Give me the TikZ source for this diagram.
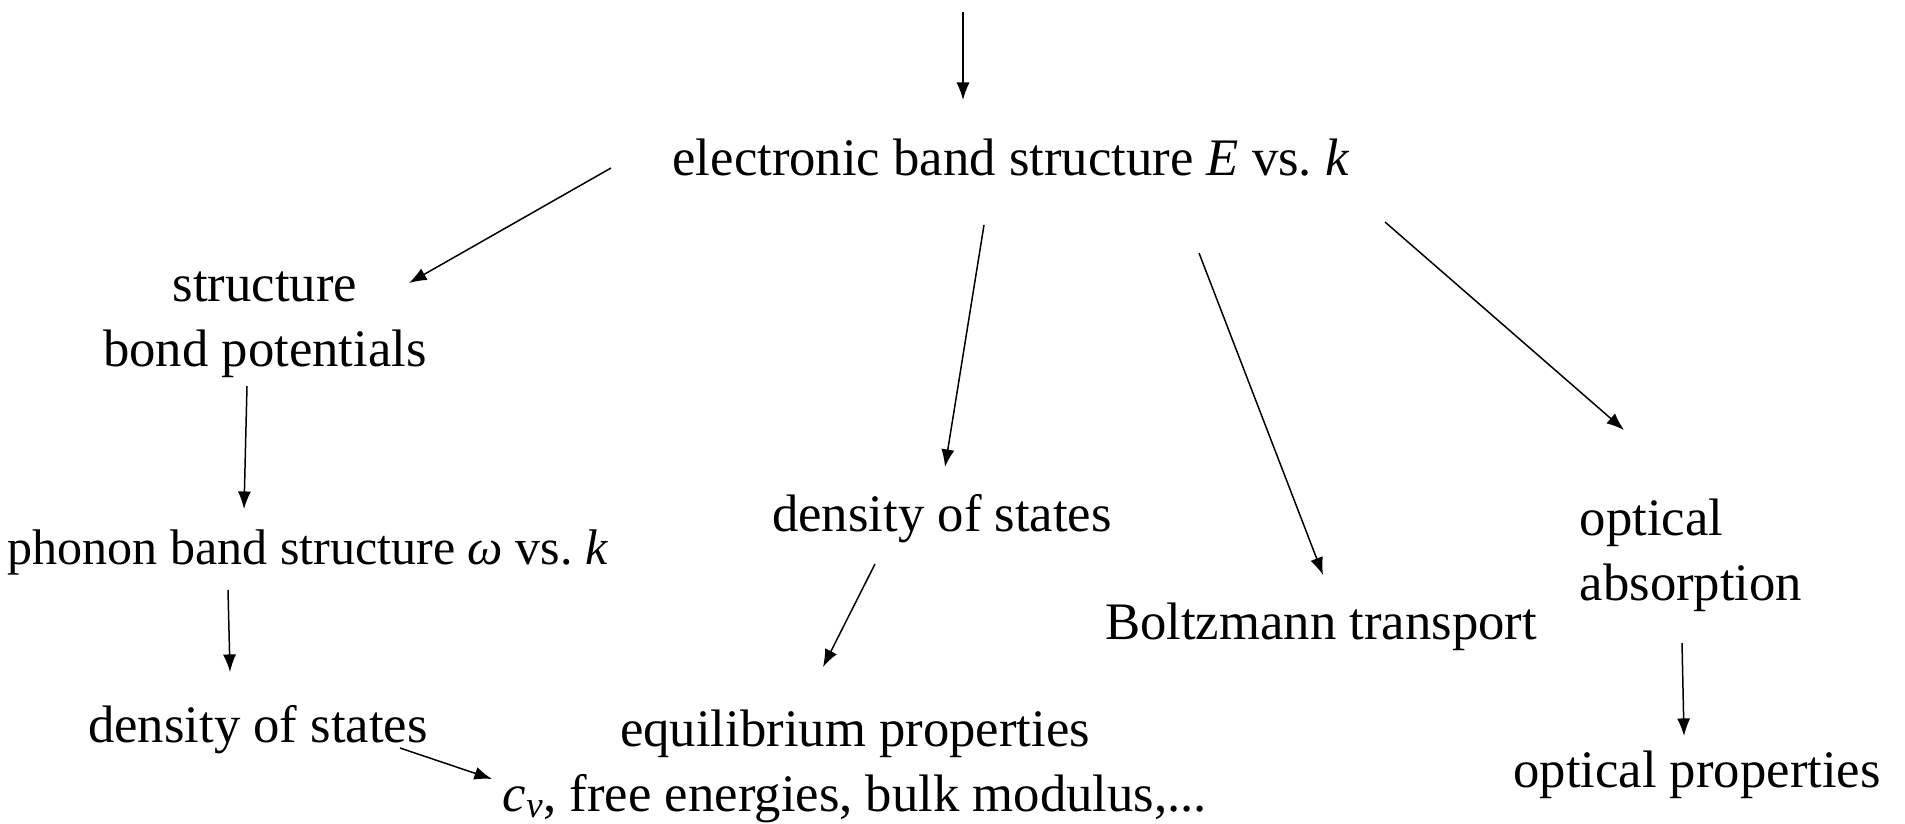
\documentclass[tikz,border=0pt]{standalone}
\usepackage{fontspec}
\setmainfont{Liberation Serif}
\usetikzlibrary{arrows.meta}
\frenchspacing
\begin{document}
\begin{tikzpicture}
        [x=0.02cm, y=-0.02cm,
        txt/.style={inner sep=0pt, anchor=base, font=\fontsize{30}{36.5}\selectfont},
        arr/.style={line width=0.85pt, -{Latex[length=10pt, width=7.5pt]}}]
        \useasboundingbox (0,0) rectangle (1905,824);

        \node[txt] (elec) at (1011,175) {electronic band structure \textit{E} vs. \textit{k}};
        \node[txt, align=center] (struct) at (265,366) {structure\\bond potentials};
        \node[txt, font=\fontsize{28.5}{35}\selectfont] (phonon) at (308,564) {phonon band structure \textit{ω} vs. \textit{k}};
        \node[txt] (dosP) at (258,742) {density of states};
        \node[txt] (dosE) at (942,531) {density of states};
        \node[txt, align=center] (equil) at (855,811) {equilibrium properties\\\textit{c}\textsubscript{\textit{v}}, free energies, bulk modulus,...};
        \node[txt] (boltz) at (1321,639) {Boltzmann transport};
        \node[txt, align=left] (opt) at (1691,600) {optical\\absorption};
        \node[txt] (optprop) at (1697,787) {optical properties};
        \coordinate (src) at (963,12);

        \draw[arr] (src) -- ([shift={(-48,-75)}]elec.base);
        \draw[arr] ([shift={(-400,-7)}]elec.base) -- ([shift={(144,-83)}]struct.base);
        \draw[arr] ([shift={(-27,50)}]elec.base) -- ([shift={(3,-64)}]dosE.base);
        \draw[arr] ([shift={(188,78)}]elec.base) -- ([shift={(2,-64)}]boltz.base);
        \draw[arr] ([shift={(374,47)}]elec.base) -- ([shift={(-67,-170)}]opt.base);
        \draw[arr] ([shift={(-18,20)}]struct.base) -- ([shift={(-64,-55)}]phonon.base);
        \draw[arr] ([shift={(-80,26)}]phonon.base) -- ([shift={(-28,-70)}]dosP.base);
        \draw[arr] ([shift={(-67,33)}]dosE.base) -- ([shift={(-32,-144)}]equil.base);
        \draw[arr] ([shift={(142,6)}]dosP.base) -- ([shift={(-363,-32)}]equil.base);
        \draw[arr] ([shift={(-9,43)}]opt.base) -- ([shift={(-13,-51)}]optprop.base);

\end{tikzpicture}
\end{document}
